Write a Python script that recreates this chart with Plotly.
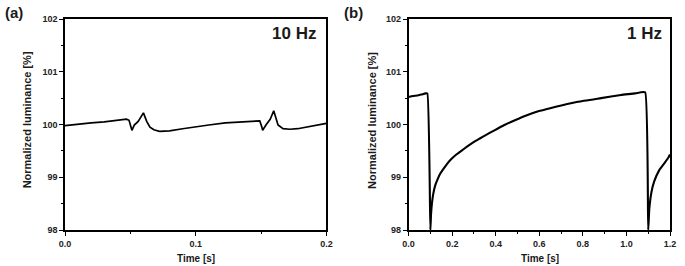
import plotly.graph_objects as go

# ---------------- data ----------------
t_10hz = [0.0, 0.010, 0.020, 0.030, 0.040, 0.047, 0.049, 0.0505, 0.0512, 0.053, 0.056,
          0.0600, 0.0625, 0.0650, 0.0680, 0.0723, 0.080, 0.090, 0.0975, 0.110, 0.1227,
          0.135, 0.1470, 0.1490, 0.1505, 0.1512, 0.1540, 0.1570, 0.1597, 0.1630, 0.1668,
          0.172, 0.178, 0.188, 0.198, 0.200]
lum_10hz = [99.98, 100.01, 100.03, 100.05, 100.08, 100.10, 100.08, 99.96, 99.89, 99.99, 100.06,
            100.22, 100.06, 99.95, 99.90, 99.87, 99.88, 99.92, 99.95, 99.99, 100.03,
            100.05, 100.08, 100.07, 99.96, 99.89, 100.00, 100.10, 100.26, 99.99, 99.92,
            99.91, 99.92, 99.97, 100.02, 100.02]

t_1hz = [0.0, 0.02, 0.04, 0.06, 0.078, 0.086, 0.100, 0.103, 0.107, 0.113, 0.1226, 0.135,
         0.1455, 0.160, 0.176, 0.195, 0.222, 0.245, 0.268, 0.300, 0.329, 0.350, 0.374,
         0.410, 0.440, 0.488, 0.540, 0.595, 0.650, 0.701, 0.777, 0.884, 0.975, 1.040,
         1.066, 1.086, 1.100, 1.105, 1.115, 1.1275, 1.150, 1.173, 1.195, 1.200]
lum_1hz = [100.52, 100.54, 100.55, 100.57, 100.59, 100.59, 98.00, 98.30, 98.50, 98.68, 98.85, 98.98,
           99.07, 99.16, 99.25, 99.34, 99.44, 99.51, 99.58, 99.67, 99.74, 99.79, 99.845,
           99.925, 99.99, 100.08, 100.17, 100.25, 100.31, 100.36, 100.43, 100.50, 100.56, 100.59,
           100.61, 100.61, 98.00, 98.40, 98.72, 98.92, 99.13, 99.26, 99.39, 99.43]

y_ticks = [98, 99, 100, 101, 102]
x_ticks_a = [0.0, 0.1, 0.2]
x_ticks_b = [0.0, 0.2, 0.4, 0.6, 0.8, 1.0, 1.2]

FONT = "Liberation Sans, Arial, sans-serif"

fig = go.Figure()
fig.add_trace(go.Scatter(x=t_10hz, y=lum_10hz, mode="lines",
                         line=dict(color="black", width=1.7), xaxis="x", yaxis="y",
                         showlegend=False))
fig.add_trace(go.Scatter(x=t_1hz, y=lum_1hz, mode="lines",
                         line=dict(color="black", width=2.1, shape="spline", smoothing=0.4),
                         xaxis="x2", yaxis="y2", showlegend=False))

W, H = 685, 266
ml, mr, mt, mb = 65, 9, 19, 36
pw = W - ml - mr
dom_a = [0, (329 - ml) / pw]
dom_b = [(412 - ml) / pw, 1]

TICKFONT = dict(family=FONT, size=9, color="#222", weight="bold")

common_y = dict(range=[98, 102], tickvals=y_ticks, ticktext=[str(v) for v in y_ticks],
                ticks="outside", ticklen=4, tickwidth=1.2, tickcolor="black",
                showline=True, linecolor="black", linewidth=1.5, mirror=True,
                showgrid=False, zeroline=False, tickfont=TICKFONT,
                minor=dict(dtick=0.5, ticks="outside", ticklen=2, tickcolor="black", tickwidth=1))
common_x = dict(ticks="outside", ticklen=4, tickwidth=1.2, tickcolor="black",
                showline=True, linecolor="black", linewidth=1.5, mirror=True,
                showgrid=False, zeroline=False, tickfont=TICKFONT)

fig.update_layout(
    width=W, height=H,
    margin=dict(l=ml, r=mr, t=mt, b=mb),
    paper_bgcolor="white", plot_bgcolor="white",
    xaxis=dict(domain=dom_a, range=[0, 0.2], tickvals=x_ticks_a,
               ticktext=["%.1f" % v for v in x_ticks_a], anchor="y",
               minor=dict(dtick=0.05, ticks="outside", ticklen=2, tickcolor="black", tickwidth=1),
               **common_x),
    yaxis=dict(domain=[0, 1], anchor="x", **common_y),
    xaxis2=dict(domain=dom_b, range=[0, 1.2], tickvals=x_ticks_b,
                ticktext=["%.1f" % v for v in x_ticks_b], anchor="y2",
                minor=dict(dtick=0.1, ticks="outside", ticklen=2, tickcolor="black", tickwidth=1),
                **common_x),
    yaxis2=dict(domain=[0, 1], anchor="x2", **common_y),
)

def ann_px(text, x, y, size, angle=0, xanchor="center", yanchor="middle"):
    fig.add_annotation(text="<b>%s</b>" % text,
                       x=(x - ml) / pw, y=(H - mb - y) / (H - mt - mb),
                       xref="paper", yref="paper",
                       xanchor=xanchor, yanchor=yanchor, showarrow=False, textangle=angle,
                       font=dict(family=FONT, size=size, color="#1a1a1a"))

ann_px("(a)", 2, 13, 15, xanchor="left")
ann_px("(b)", 345, 13, 15, xanchor="left")
ann_px("10 Hz", 321, 34, 17, xanchor="right")
ann_px("1 Hz", 670, 34, 17, xanchor="right")
ann_px("Normalized luminance [%]", 27, 120, 11, angle=-90)
ann_px("Normalized luminance [%]", 375, 120, 11, angle=-90)
ann_px("Time [s]", 197, 258, 10)
ann_px("Time [s]", 545, 258, 10)

fig.write_html("out.html", config={"displayModeBar": False},
               post_script="document.body.style.margin='0';document.body.style.overflow='hidden';")
